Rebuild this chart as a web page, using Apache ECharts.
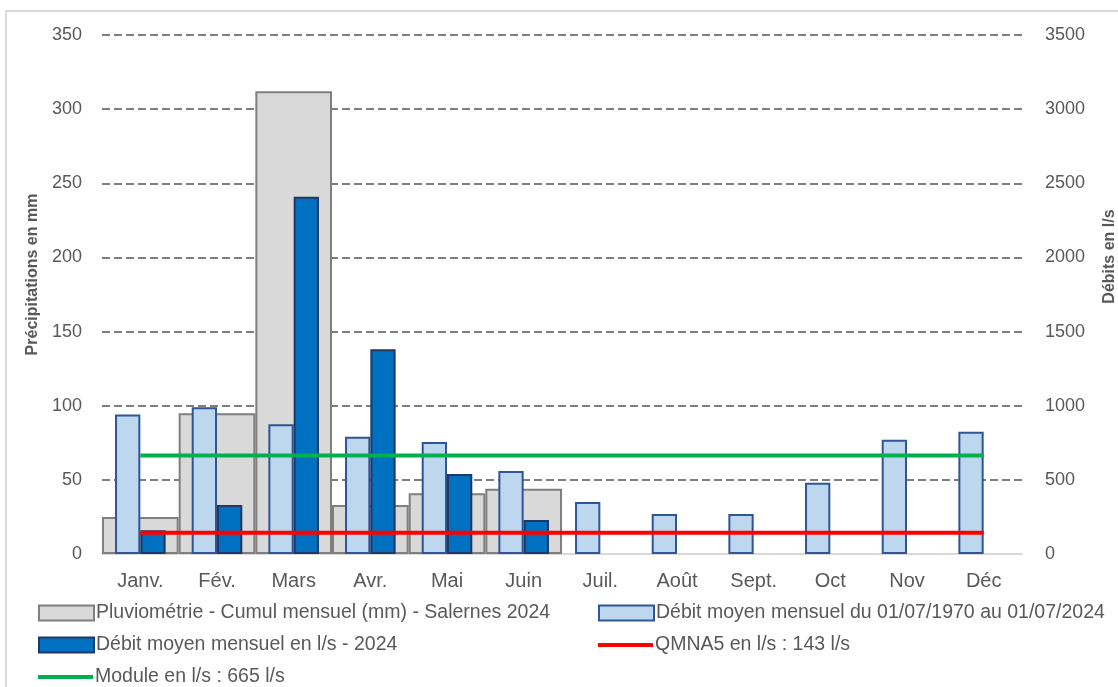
<!DOCTYPE html>
<html>
<head>
<meta charset="utf-8">
<script src="https://cdn.jsdelivr.net/npm/echarts@6/dist/echarts.min.js"></script>
<style>
  html, body { margin: 0; padding: 0; background: #fff; }
  #chart { width: 1118px; height: 687px; }
</style>
</head>
<body>
<div id="chart"></div>
<script>
// mois
const months = ['Janv.', 'Fév.', 'Mars', 'Avr.', 'Mai', 'Juin', 'Juil.', 'Août', 'Sept.', 'Oct', 'Nov', 'Déc'];
// précipitations (mm) - axe gauche
const pluie = [25, 95, 312, 33, 41, 44, null, null, null, null, null, null];
// débits (l/s) - axe droit
const debitMoyen = [940, 990, 875, 790, 755, 560, 350, 270, 270, 480, 770, 825];
const debit2024 = [160, 330, 2410, 1380, 540, 230, null, null, null, null, null, null];
const qmna5 = 143;
const module = 665;

const leftTicks = { min: 0, max: 350, interval: 50 };
const rightTicks = { min: 0, max: 3500, interval: 500 };

const font = "'Liberation Sans', sans-serif";
const txt = '#595959';

const names = {
  pluie: 'Pluviométrie - Cumul mensuel (mm) - Salernes 2024',
  moyen: 'Débit moyen mensuel du 01/07/1970 au 01/07/2024',
  d2024: 'Débit moyen mensuel en l/s - 2024',
  qmna: 'QMNA5 en l/s : 143 l/s',
  module: 'Module en l/s : 665 l/s'
};

function legendAt(name, left, top, h) {
  return {
    data: [name], left: left, top: top, itemWidth: 55, itemHeight: h, itemGap: 0,
    icon: 'rect', selectedMode: false,
    textStyle: { fontFamily: font, fontSize: 19.5, color: txt, padding: [0, 0, 0, -3] }
  };
}

const chart = echarts.init(document.getElementById('chart'));
chart.setOption({
  animation: false,
  graphic: [{
    type: 'rect', shape: { x: 6, y: 11, width: 1200, height: 800 },
    style: { fill: 'none', stroke: '#d9d9d9', lineWidth: 2 }, silent: true
  }],
  grid: { left: 102, right: 96, top: 35, bottom: 133, outerBoundsMode: 'none' },
  legend: [
    legendAt(names.pluie, 33, 598, 15),
    legendAt(names.moyen, 593, 598, 15),
    legendAt(names.d2024, 33, 630, 15),
    legendAt(names.qmna, 593, 630, 4),
    legendAt(names.module, 33, 662, 4)
  ],
  xAxis: [{
    type: 'category', data: months, boundaryGap: true,
    axisLine: { lineStyle: { color: '#d9d9d9', width: 2 } },
    axisTick: { show: false },
    axisLabel: { fontFamily: font, fontSize: 20, color: txt, margin: 17 }
  }, {
    type: 'category', data: months, boundaryGap: true, show: false
  }],
  yAxis: [{
    type: 'value', position: 'left', ...leftTicks,
    name: 'Précipitations en mm', nameLocation: 'middle', nameGap: 58,
    nameTextStyle: { fontFamily: font, fontSize: 16, fontWeight: 'bold', color: txt, padding: [0, 0, 0, 40] },
    axisLine: { show: false }, axisTick: { show: false },
    axisLabel: { fontFamily: font, fontSize: 18, color: txt, margin: 20 },
    splitLine: { lineStyle: { color: '#7f7f7f', width: 2, type: [8, 4] } }
  }, {
    type: 'value', position: 'right', ...rightTicks,
    name: 'Débits en l/s', nameLocation: 'middle', nameGap: 80,
    nameTextStyle: { fontFamily: font, fontSize: 16, fontWeight: 'bold', color: txt, padding: [0, 0, 0, 76] },
    axisLine: { show: false }, axisTick: { show: false },
    axisLabel: { fontFamily: font, fontSize: 18, color: txt, margin: 23, formatter: v => String(v) },
    splitLine: { show: false }
  }],
  series: [{
    name: names.pluie, type: 'bar', xAxisIndex: 1, yAxisIndex: 0, data: pluie,
    barWidth: '100%',
    itemStyle: { color: '#d9d9d9', borderColor: '#7f7f7f', borderWidth: 2 }
  }, {
    name: names.moyen, type: 'bar', xAxisIndex: 0, yAxisIndex: 1, data: debitMoyen,
    barWidth: '33%', barGap: '0%',
    itemStyle: { color: '#bdd7ee', borderColor: '#2f5597', borderWidth: 2 }
  }, {
    name: names.d2024, type: 'bar', xAxisIndex: 0, yAxisIndex: 1, data: debit2024,
    barWidth: '33%', barGap: '0%',
    itemStyle: { color: '#0070c0', borderColor: '#203864', borderWidth: 2 }
  }, {
    name: names.qmna, type: 'line', xAxisIndex: 0, yAxisIndex: 1,
    data: months.map(() => qmna5), symbol: 'none',
    lineStyle: { color: '#ff0000', width: 4 }, itemStyle: { color: '#ff0000' }
  }, {
    name: names.module, type: 'line', xAxisIndex: 0, yAxisIndex: 1,
    data: months.map(() => module), symbol: 'none',
    lineStyle: { color: '#00b050', width: 4 }, itemStyle: { color: '#00b050' }
  }]
});
</script>
</body>
</html>
